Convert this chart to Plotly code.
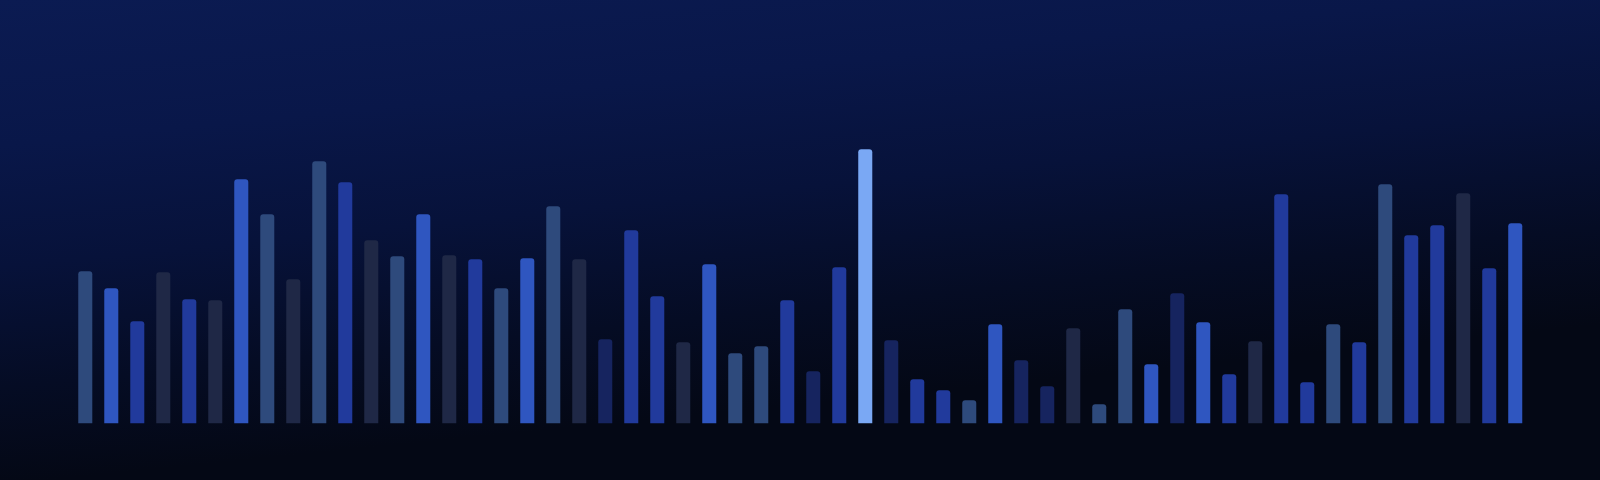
import base64
import plotly.graph_objects as go

# bar values (baseline = 0)
bars = list(range(1, 57))
values = [152, 135, 102, 151, 124, 123, 244, 209, 144, 262,
          241, 183, 167, 209, 168, 164, 135, 165, 217, 164,
          84, 193, 127, 81, 159, 70, 77, 123, 52, 156,
          274, 83, 44, 33, 23, 99, 63, 37, 95, 19,
          114, 59, 130, 101, 49, 82, 229, 41, 99, 81,
          239, 188, 198, 230, 155, 200]
tones = ["slate", "bright", "medium", "dark", "medium", "dark", "bright", "slate", "dark", "slate",
         "medium", "dark", "slate", "bright", "dark", "medium", "slate", "bright", "slate", "dark",
         "navy", "medium", "medium", "dark", "bright", "slate", "slate", "medium", "navy", "medium",
         "highlight", "navy", "medium", "medium", "slate", "bright", "navy", "navy", "dark", "slate",
         "slate", "bright", "navy", "bright", "medium", "dark", "medium", "medium", "slate", "medium",
         "slate", "medium", "medium", "dark", "medium", "bright"]

palette = {
    "slate": "#2e4a7c",
    "bright": "#2f56c0",
    "medium": "#213a9c",
    "dark": "#1f2846",
    "navy": "#16245f",
    "highlight": "#7aa8f4",
}

# background: one svg with a slightly tilted linear gradient
svg = """<svg xmlns='http://www.w3.org/2000/svg' width='1600' height='480' viewBox='0 0 1600 480' preserveAspectRatio='none'>
<defs><linearGradient id='g' gradientUnits='userSpaceOnUse' x1='0' y1='0' x2='48' y2='480'>
<stop offset='0' stop-color='#0b1b52'/>
<stop offset='0.3' stop-color='#091749'/>
<stop offset='0.55' stop-color='#07123a'/>
<stop offset='0.8' stop-color='#050c24'/>
<stop offset='1' stop-color='#040815'/>
</linearGradient></defs>
<rect width='1600' height='480' fill='url(#g)'/></svg>"""
bg_src = "data:image/svg+xml;base64," + base64.b64encode(svg.encode()).decode()

fig = go.Figure(go.Bar(
    x=bars,
    y=values,
    marker=dict(color=[palette[t] for t in tones], line_width=0, cornerradius=3),
    hoverinfo="skip",
))

fig.update_layout(
    width=1600, height=480,
    margin=dict(l=0, r=0, t=0, b=0),
    paper_bgcolor="#050a18",
    plot_bgcolor="rgba(0,0,0,0)",
    bargap=0.46,
    showlegend=False,
    images=[dict(source=bg_src, xref="paper", yref="paper", x=0, y=1,
                 sizex=1, sizey=1, xanchor="left", yanchor="top",
                 sizing="stretch", layer="below")],
    xaxis=dict(range=[-2.28, 59.26], visible=False, fixedrange=True),
    yaxis=dict(range=[-56.7, 423.3], visible=False, fixedrange=True),
)

fig.write_html("out.html", config={"displayModeBar": False},
               post_script="document.body.style.margin='0';")
